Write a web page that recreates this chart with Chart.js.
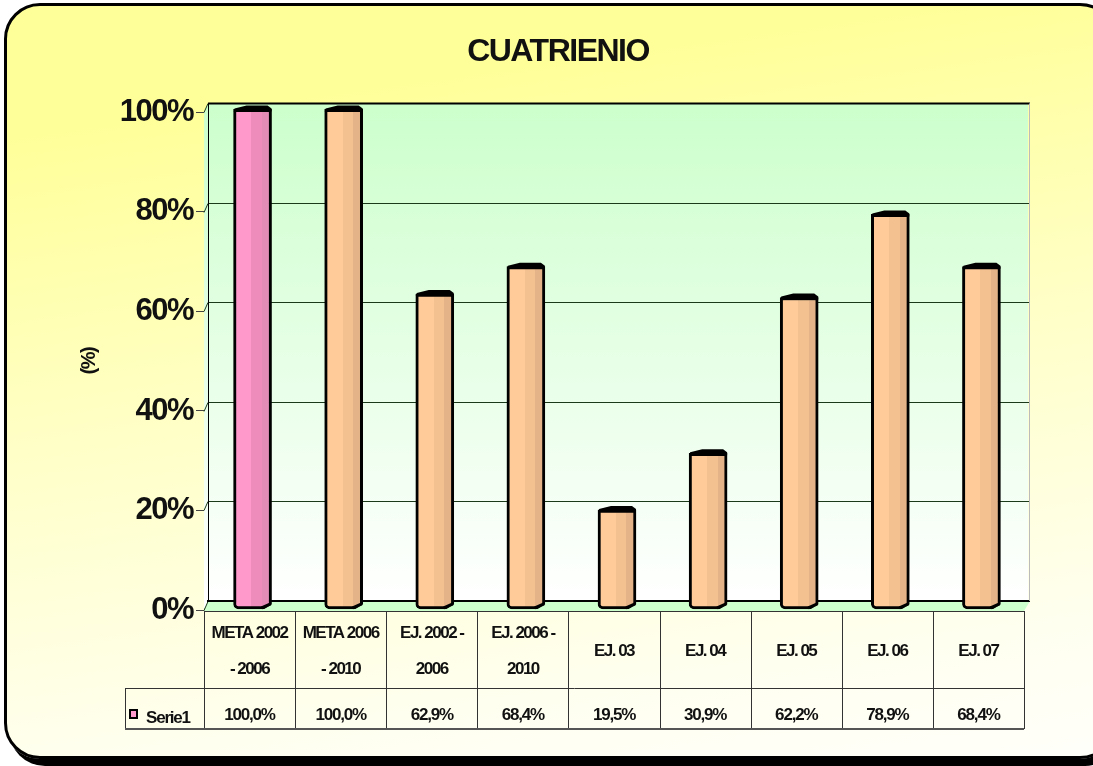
<!DOCTYPE html>
<html>
<head>
<meta charset="utf-8">
<title>CUATRIENIO</title>
<script src="https://cdn.jsdelivr.net/npm/chart.js@4"></script>
<style>
  html, body { margin: 0; padding: 0; background: #fff; overflow: hidden; }
  #wrap { position: relative; width: 1093px; height: 766px; overflow: hidden; }
  #frame {
    position: absolute; left: 4px; top: 3px; width: 1106px; height: 750px;
    border: 3px solid #000; border-radius: 36px;
    background: linear-gradient(172deg, #ffff99 0%, #ffff99 14%, #ffffc8 50%, #fffff0 85%, #fffffa 100%);
    box-shadow: 5px 7px 0 #000;
  }
  canvas { position: absolute; left: 0; top: 0; }
</style>
</head>
<body>
<div id="wrap">
  <div id="frame"></div>
  <canvas id="myChart" width="1093" height="766"></canvas>
</div>
<script>
const categories = [
  ["META 2002", "- 2006"],
  ["META 2006", "- 2010"],
  ["EJ. 2002 -", "2006"],
  ["EJ. 2006 -", "2010"],
  "EJ. 03",
  "EJ. 04",
  "EJ. 05",
  "EJ. 06",
  "EJ. 07",
];
const serie1 = [100, 100, 62.9, 68.4, 19.5, 30.9, 62.2, 78.9, 68.4];
const seriesName = "Serie1";
const pinkBars = ["#FF99CC", "#EE8DBC", "#E38CB6"];
const orangeBars = ["#FFCC99", "#F2C18F", "#E4B488"];

const BAR_WIDTH = 38;
const fontName = "'Liberation Sans', Arial, sans-serif";

// hard stop gradient, it fakes the round 3d face of the column
function barFill(c) {
  const chart = c.chart;
  const xs = chart.scales.x;
  if (!xs || c.dataIndex === undefined) return orangeBars[0];
  const mid = xs.getPixelForValue(c.dataIndex);
  if (!isFinite(mid)) return orangeBars[0];
  const g = chart.ctx.createLinearGradient(mid - BAR_WIDTH / 2, 0, mid + BAR_WIDTH / 2, 0);
  const cols = c.dataIndex === 0 ? pinkBars : orangeBars;
  g.addColorStop(0, cols[0]);
  g.addColorStop(0.47, cols[0]);
  g.addColorStop(0.47, cols[1]);
  g.addColorStop(0.75, cols[1]);
  g.addColorStop(0.75, cols[2]);
  g.addColorStop(1, cols[2]);
  return g;
}

const scenePlugin = {
  id: "scene",
  beforeDraw(chart) {
    // the original text is squeezed, tighten everything a bit
    chart.ctx.letterSpacing = "-1.5px";
  },
  beforeDatasetsDraw(chart) {
    const { ctx, chartArea: a, scales } = chart;
    const dx = 6, dy = 9;
    ctx.save();
    // back wall
    const wall = ctx.createLinearGradient(0, a.top - dy, 0, a.bottom - dy);
    wall.addColorStop(0, "#CCFFCC");
    wall.addColorStop(1, "#FFFFFF");
    ctx.fillStyle = wall;
    ctx.fillRect(a.left + dx - 2, a.top - dy, a.right - a.left, a.bottom - a.top);
    // side wall
    ctx.beginPath();
    ctx.moveTo(a.left, a.top);
    ctx.lineTo(a.left + dx - 2, a.top - dy);
    ctx.lineTo(a.left + dx - 2, a.bottom - dy);
    ctx.lineTo(a.left, a.bottom);
    ctx.closePath();
    ctx.fill();
    // floor
    ctx.fillStyle = "#CCFFCC";
    ctx.beginPath();
    ctx.moveTo(a.left, a.bottom + 1);
    ctx.lineTo(a.left + dx - 2, a.bottom - dy);
    ctx.lineTo(a.right + dx, a.bottom - dy);
    ctx.lineTo(a.right, a.bottom + 1);
    ctx.closePath();
    ctx.fill();
    // grid lines and their little slants on the side wall
    ctx.strokeStyle = "#1a3a1a";
    ctx.lineWidth = 1;
    scales.y.ticks.forEach((t) => {
      const y = Math.round(scales.y.getPixelForValue(t.value)) + 0.5;
      ctx.beginPath();
      ctx.moveTo(a.left, y);
      ctx.lineTo(a.left + dx - 2, y - dy);
      if (t.value > 0 && t.value < 100) ctx.lineTo(a.right + dx, y - dy);
      ctx.stroke();
    });
    ctx.strokeStyle = "#000";
    ctx.lineWidth = 1;
    ctx.beginPath();
    ctx.moveTo(a.left + dx - 1.5, a.top - dy);
    ctx.lineTo(a.left + dx - 1.5, a.bottom - dy);
    ctx.stroke();
    ctx.lineWidth = 2;
    ctx.beginPath();
    ctx.moveTo(a.left + dx - 2, a.top - dy);
    ctx.lineTo(a.right + dx, a.top - dy);
    ctx.moveTo(a.left + dx - 3, a.bottom - dy);
    ctx.lineTo(a.right + dx, a.bottom - dy);
    ctx.stroke();
    ctx.strokeStyle = "#bbb";
    ctx.lineWidth = 1;
    ctx.beginPath();
    ctx.moveTo(a.right + dx - 0.5, a.top - dy);
    ctx.lineTo(a.right + dx - 0.5, a.bottom - dy);
    ctx.stroke();
    ctx.restore();
    // bars sit between the front axis and the back wall
    ctx.save();
    ctx.translate(3, -3);
  },
  afterDatasetsDraw(chart) {
    const { ctx, chartArea: a, scales } = chart;
    // caps and the cut corner of each column, still in the bar plane
    chart.getDatasetMeta(0).data.forEach((bar) => {
      const l = bar.x - BAR_WIDTH / 2, r = bar.x + BAR_WIDTH / 2;
      ctx.fillStyle = "#000";
      ctx.beginPath();
      ctx.moveTo(l, bar.y + 2);
      ctx.lineTo(l + 1, bar.y - 1);
      ctx.lineTo(l + 13, bar.y - 4);
      ctx.lineTo(r - 4, bar.y - 4);
      ctx.lineTo(r, bar.y - 1);
      ctx.lineTo(r, bar.y + 2);
      ctx.closePath();
      ctx.fill();
      ctx.fillStyle = "#CCFFCC";
      ctx.beginPath();
      ctx.moveTo(r + 1, bar.base - 5);
      ctx.lineTo(r + 1, bar.base + 1);
      ctx.lineTo(r - 9, bar.base + 1);
      ctx.closePath();
      ctx.fill();
      ctx.strokeStyle = "#000";
      ctx.lineWidth = 3;
      ctx.beginPath();
      ctx.moveTo(r - 1, bar.base - 5);
      ctx.lineTo(r - 10, bar.base - 1);
      ctx.stroke();
    });
    ctx.restore();

    // data table under the chart
    const xs = scales.x;
    const cell = (a.right - a.left) / categories.length;
    const rowTop = a.bottom + 1, rowMid = 688, rowEnd = 729, headLeft = 125;
    ctx.save();
    ctx.strokeStyle = "#333";
    ctx.lineWidth = 1;
    ctx.beginPath();
    for (let i = 0; i <= categories.length; i++) {
      const x = Math.round(a.left + i * cell) + 0.5;
      ctx.moveTo(x, rowTop);
      ctx.lineTo(x, rowEnd);
    }
    ctx.moveTo(a.left, rowTop + 0.5);
    ctx.lineTo(a.right, rowTop + 0.5);
    ctx.moveTo(headLeft, rowMid + 0.5);
    ctx.lineTo(a.right, rowMid + 0.5);
    ctx.moveTo(headLeft + 0.5, rowMid);
    ctx.lineTo(headLeft + 0.5, rowEnd);
    ctx.stroke();
    ctx.strokeStyle = "#555";
    ctx.lineWidth = 2;
    ctx.beginPath();
    ctx.moveTo(headLeft, rowEnd);
    ctx.lineTo(a.right, rowEnd);
    ctx.stroke();

    ctx.fillStyle = "#111";
    ctx.font = "bold 17px " + fontName;
    ctx.letterSpacing = "-1.2px";
    ctx.textAlign = "center";
    ctx.textBaseline = "middle";
    serie1.forEach((v, i) => {
      ctx.fillText(v.toFixed(1).replace(".", ",") + "%", xs.getPixelForValue(i), 715);
    });
    ctx.textAlign = "left";
    ctx.fillText(seriesName, 146, 718);
    ctx.fillStyle = pinkBars[0];
    ctx.strokeStyle = "#000";
    ctx.lineWidth = 2;
    ctx.fillRect(130, 710, 7, 8);
    ctx.strokeRect(130, 710, 7, 8);
    ctx.restore();
  },
};

const ctx = document.getElementById("myChart");

new Chart(ctx, {
  type: "bar",
  data: {
    labels: categories,
    datasets: [
      {
        label: seriesName,
        data: serie1,
        base: -0.4,
        backgroundColor: barFill,
        borderColor: "#000",
        borderWidth: 3,
        borderSkipped: false,
        borderRadius: { topLeft: 0, topRight: 0, bottomLeft: 5, bottomRight: 0 },
        barThickness: BAR_WIDTH,
        clip: false,
      },
    ],
  },
  plugins: [scenePlugin],
  options: {
    responsive: false,
    animation: false,
    layout: { padding: { left: 92, right: 69, top: 0, bottom: 78 } },
    scales: {
      y: {
        min: 0,
        max: 100,
        afterFit(scale) {
          scale.width = 112;
        },
        ticks: {
          stepSize: 20,
          padding: 3,
          color: "#111",
          font: { family: fontName, size: 31, weight: "bold" },
          callback: (v) => v + "%",
        },
        grid: { drawOnChartArea: false, tickLength: 8, color: "#444" },
        border: { color: "#444" },
        title: {
          display: true,
          text: "(%)",
          color: "#111",
          padding: { top: -15, bottom: 0 },
          font: { family: fontName, size: 20, weight: "bold" },
        },
      },
      x: {
        afterFit(scale) {
          scale.height = 78;
        },
        ticks: {
          autoSkip: false,
          maxRotation: 0,
          minRotation: 0,
          padding: 23,
          crossAlign: "center",
          color: "#111",
          font: { family: fontName, size: 17, weight: "bold", lineHeight: 2.12 },
        },
        grid: { display: false, drawTicks: false },
        border: { display: false },
      },
    },
    plugins: {
      legend: { display: false },
      tooltip: { enabled: false },
      title: {
        display: true,
        text: "CUATRIENIO",
        color: "#111",
        padding: { top: 33, bottom: 41 },
        font: { family: fontName, size: 32, weight: "bold", lineHeight: 1.2 },
      },
    },
  },
});
</script>
</body>
</html>
